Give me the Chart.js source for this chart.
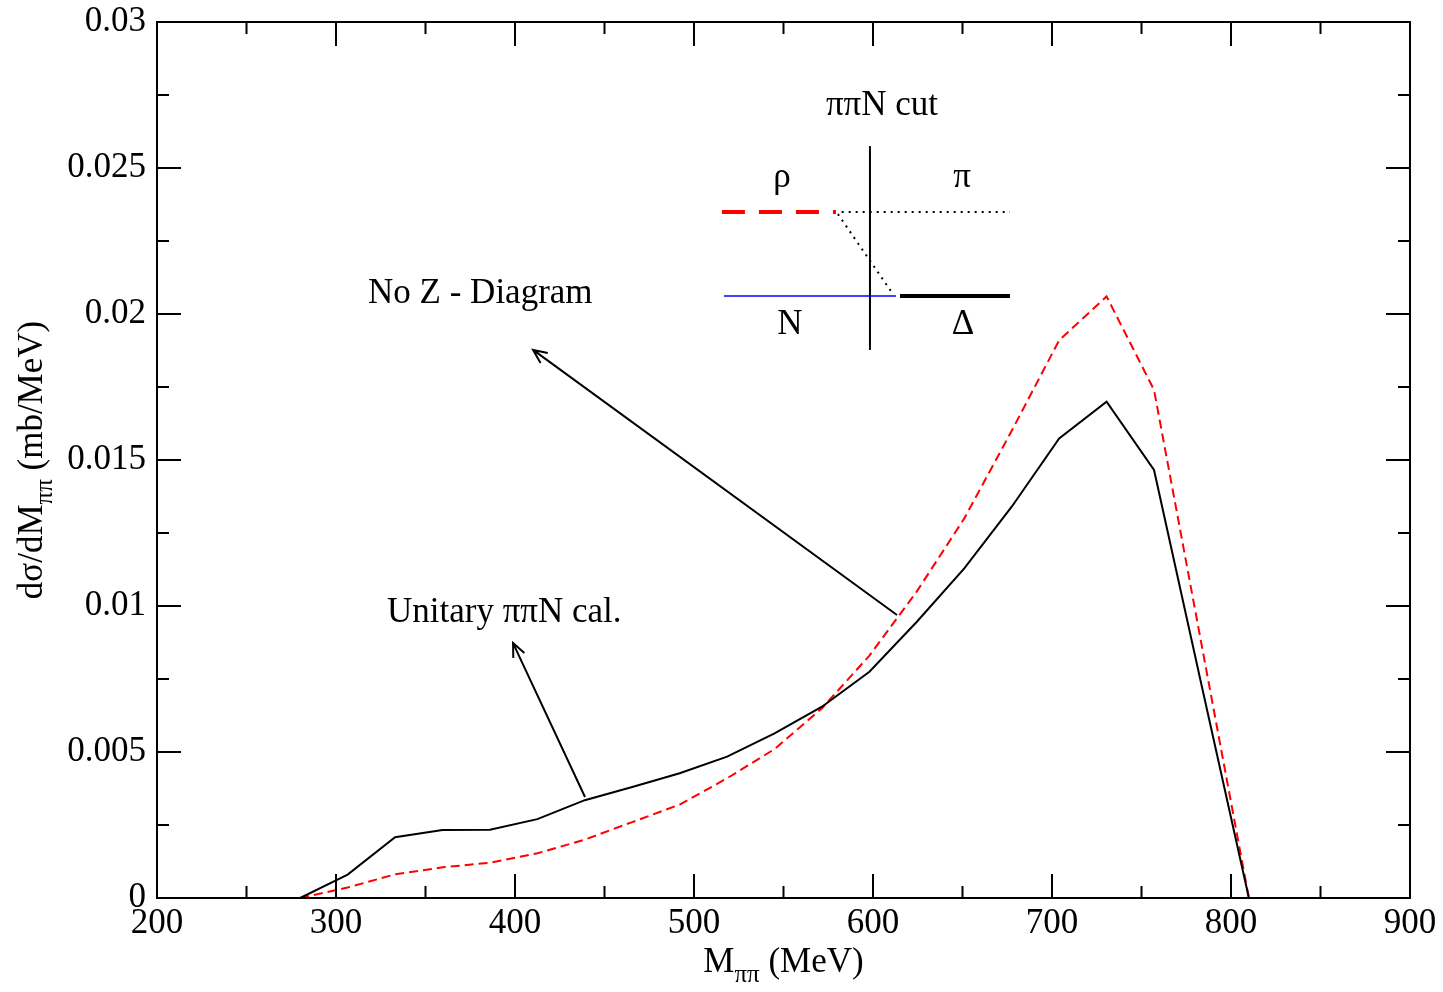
<!DOCTYPE html>
<html>
<head>
<meta charset="utf-8">
<script src="https://cdn.jsdelivr.net/npm/chart.js@4"></script>
<style>
  html, body { margin: 0; padding: 0; background: #fff; }
  #wrap { width: 1443px; height: 992px; }
</style>
</head>
<body>
<div id="wrap"><canvas id="chart" width="1443" height="992"></canvas></div>
<script>
// M_pipi grid (MeV)
const mass = [280, 306.5, 333, 359.5, 386, 412.5, 439, 465.5, 492, 518.5, 545,
              571.5, 598, 624.5, 651, 677.5, 704, 730.5, 757, 783.5, 810];
// unitary pipiN calculation (solid black)
const unitary = [0, 0.0008, 0.00208, 0.00233, 0.00234, 0.0027, 0.00335, 0.0038, 0.00427,
                 0.00484, 0.00564, 0.00655, 0.00775, 0.00946, 0.01129, 0.0134, 0.01574,
                 0.0170, 0.01466, 0.0073, 0];
// no Z-diagram (red dashed)
const noZ = [0, 0.00036, 0.00081, 0.00105, 0.00121, 0.00153, 0.0020, 0.0026, 0.0032,
             0.0041, 0.0051, 0.0065, 0.0083, 0.0105, 0.0130, 0.0160, 0.0191,
             0.0206, 0.0174, 0.0087, 0];
const xTicks = [200, 300, 400, 500, 600, 700, 800, 900];
const yTicks = [0, 0.005, 0.01, 0.015, 0.02, 0.025, 0.03];

const SERIF = '"Liberation Serif", "DejaVu Serif", serif';
const FS = 35;   // main font size
const SUB = 25;  // subscript size

function pts(ys) {
    return mass.map((m, i) => ({ x: m, y: ys[i] }));
}

function arrow(ctx, x1, y1, x2, y2) {
    const a = Math.atan2(y2 - y1, x2 - x1);
    const len = 15, ang = 0.42;
    ctx.beginPath();
    ctx.moveTo(x1, y1);
    ctx.lineTo(x2, y2);
    ctx.moveTo(x2 - len * Math.cos(a - ang), y2 - len * Math.sin(a - ang));
    ctx.lineTo(x2, y2);
    ctx.lineTo(x2 - len * Math.cos(a + ang), y2 - len * Math.sin(a + ang));
    ctx.stroke();
}

// draws "main" + subscript + rest starting at x (left aligned, baseline y)
function subText(ctx, x, y, main, sub, rest) {
    ctx.textAlign = 'left';
    ctx.textBaseline = 'alphabetic';
    ctx.font = FS + 'px ' + SERIF;
    ctx.fillText(main, x, y);
    x += ctx.measureText(main).width;
    ctx.font = SUB + 'px ' + SERIF;
    ctx.fillText(sub, x, y + 10);
    x += ctx.measureText(sub).width;
    ctx.font = FS + 'px ' + SERIF;
    ctx.fillText(rest, x, y);
}
function subWidth(ctx, main, sub, rest) {
    ctx.font = FS + 'px ' + SERIF;
    let w = ctx.measureText(main).width + ctx.measureText(rest).width;
    ctx.font = SUB + 'px ' + SERIF;
    return w + ctx.measureText(sub).width;
}

const decor = {
    id: 'decor',
    afterDatasetsDraw(chart) {
        const ctx = chart.ctx;
        const xs = chart.scales.x, ys = chart.scales.y;
        const a = chart.chartArea;
        const X = v => xs.getPixelForValue(v);
        const Y = v => ys.getPixelForValue(v);
        ctx.save();
        ctx.strokeStyle = '#000';
        ctx.fillStyle = '#000';
        ctx.lineWidth = 2;
        ctx.setLineDash([]);

        // frame
        ctx.strokeRect(a.left, a.top, a.right - a.left, a.bottom - a.top);

        // inward ticks on all four sides
        ctx.beginPath();
        for (let v = 200; v <= 900; v += 50) {
            const p = X(v), l = (v % 100 === 0) ? 24 : 12;
            ctx.moveTo(p, a.bottom); ctx.lineTo(p, a.bottom - l);
            ctx.moveTo(p, a.top); ctx.lineTo(p, a.top + l);
        }
        for (let i = 0; i <= 12; i++) {
            const p = Y(i * 0.0025), l = (i % 2 === 0) ? 24 : 12;
            ctx.moveTo(a.left, p); ctx.lineTo(a.left + l, p);
            ctx.moveTo(a.right, p); ctx.lineTo(a.right - l, p);
        }
        ctx.stroke();

        // annotations
        ctx.font = FS + 'px ' + SERIF;
        ctx.textAlign = 'left';
        ctx.textBaseline = 'middle';
        ctx.fillText('No Z - Diagram', X(317.9), Y(0.0207));
        ctx.fillText('Unitary \u03c0\u03c0N cal.', X(328.5), Y(0.00976));
        ctx.lineWidth = 2;
        arrow(ctx, X(613.4), Y(0.00969), X(410.1), Y(0.01877));
        arrow(ctx, X(439.1), Y(0.00346), X(398.9), Y(0.00873));

        // inset diagram
        ctx.textAlign = 'center';
        ctx.fillText('\u03c0\u03c0N cut', X(605.0), Y(0.02712));
        ctx.fillText('\u03c1', X(549.2), Y(0.02468));
        ctx.fillText('\u03c0', X(649.7), Y(0.02468));
        ctx.fillText('N', X(553.6), Y(0.01962));
        ctx.fillText('\u0394', X(650.3), Y(0.01962));

        ctx.lineWidth = 2;
        ctx.beginPath();
        ctx.moveTo(X(598.3), Y(0.02575)); ctx.lineTo(X(598.3), Y(0.01877));
        ctx.stroke();

        ctx.strokeStyle = '#ff0000';
        ctx.lineWidth = 4;
        ctx.setLineDash([23, 14]);
        ctx.beginPath();
        ctx.moveTo(X(515.6), Y(0.02349)); ctx.lineTo(X(579.3), Y(0.02349));
        ctx.stroke();

        ctx.strokeStyle = '#000';
        ctx.lineWidth = 2;
        ctx.setLineDash([2, 5]);
        ctx.beginPath();
        ctx.moveTo(X(582.5), Y(0.02349)); ctx.lineTo(X(676.5), Y(0.02349));
        ctx.moveTo(X(580.4), Y(0.02342)); ctx.lineTo(X(611.2), Y(0.02068));
        ctx.stroke();

        ctx.setLineDash([]);
        ctx.strokeStyle = '#0000ff';
        ctx.lineWidth = 1.5;
        ctx.beginPath();
        ctx.moveTo(X(516.8), Y(0.02062)); ctx.lineTo(X(612.8), Y(0.02062));
        ctx.stroke();

        ctx.strokeStyle = '#000';
        ctx.lineWidth = 4;
        ctx.beginPath();
        ctx.moveTo(X(615.1), Y(0.02062)); ctx.lineTo(X(676.5), Y(0.02062));
        ctx.stroke();

        // axis titles with subscripts
        const xt = subWidth(ctx, 'M', '\u03c0\u03c0', ' (MeV)');
        subText(ctx, (a.left + a.right) / 2 - xt / 2, 972, 'M', '\u03c0\u03c0', ' (MeV)');

        ctx.save();
        ctx.translate(42, (a.top + a.bottom) / 2);
        ctx.rotate(-Math.PI / 2);
        const yt = subWidth(ctx, 'd\u03c3/dM', '\u03c0\u03c0', ' (mb/MeV)');
        subText(ctx, -yt / 2, 0, 'd\u03c3/dM', '\u03c0\u03c0', ' (mb/MeV)');
        ctx.restore();

        ctx.restore();
    }
};

new Chart(document.getElementById('chart'), {
    type: 'line',
    data: {
        datasets: [
            {
                label: 'Unitary \u03c0\u03c0N cal.',
                data: pts(unitary),
                borderColor: '#000000',
                borderWidth: 2,
                pointRadius: 0,
                tension: 0,
                fill: false
            },
            {
                label: 'No Z - Diagram',
                data: pts(noZ),
                borderColor: '#ff0000',
                borderWidth: 2,
                borderDash: [9, 5],
                pointRadius: 0,
                tension: 0,
                fill: false
            }
        ]
    },
    options: {
        responsive: false,
        animation: false,
        devicePixelRatio: 1,
        layout: { padding: { top: 22, right: 33, left: 0, bottom: 0 } },
        plugins: {
            legend: { display: false },
            tooltip: { enabled: false }
        },
        scales: {
            x: {
                type: 'linear',
                min: 200,
                max: 900,
                afterBuildTicks: s => { s.ticks = xTicks.map(v => ({ value: v })); },
                afterFit: s => { s.height = 94; s.paddingLeft = 0; s.paddingRight = 0; },
                grid: { display: false },
                border: { display: false },
                ticks: {
                    color: '#000',
                    padding: -3,
                    maxRotation: 0,
                    font: { family: SERIF, size: FS }
                }
            },
            y: {
                type: 'linear',
                min: 0,
                max: 0.03,
                afterBuildTicks: s => { s.ticks = yTicks.map(v => ({ value: v })); },
                afterFit: s => { s.width = 157; s.paddingTop = 0; s.paddingBottom = 0; },
                grid: { display: false },
                border: { display: false },
                ticks: {
                    color: '#000',
                    padding: 3,
                    font: { family: SERIF, size: FS },
                    callback: v => String(Number(v.toFixed(4)))
                }
            }
        }
    },
    plugins: [decor]
});
</script>
</body>
</html>
